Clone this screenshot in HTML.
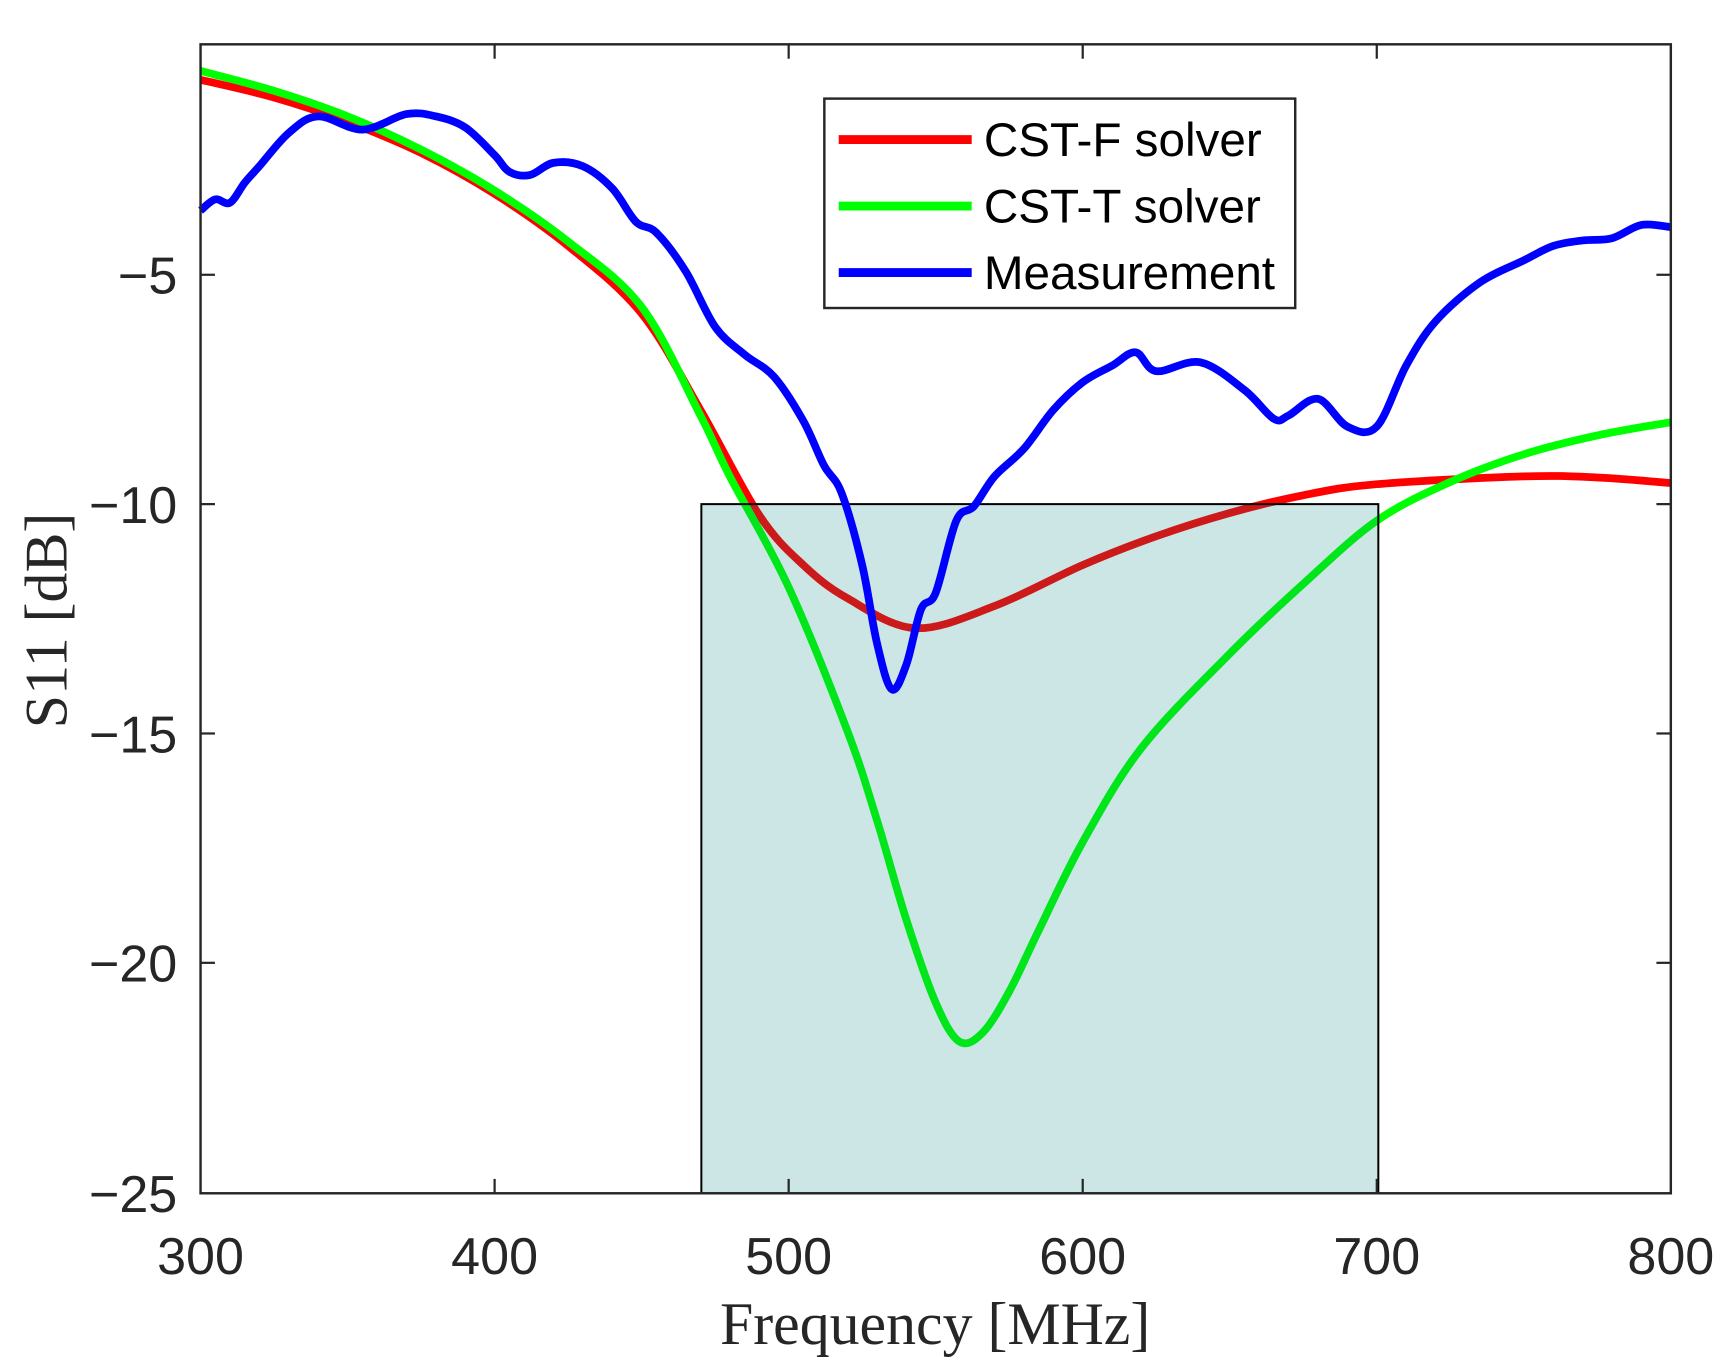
<!DOCTYPE html>
<html><head><meta charset="utf-8"><style>
html,body{margin:0;padding:0;background:#fff;width:1729px;height:1370px;overflow:hidden}
svg{display:block}
.t{font-family:"Liberation Sans",Arial,sans-serif;font-size:47px;fill:#262626}
.s{font-family:"Liberation Serif","DejaVu Serif",serif;font-size:54px;fill:#262626}
.l{font-family:"Liberation Sans",Arial,sans-serif;font-size:43px;fill:#000}
</style></head><body>
<svg id="g" width="1729" height="1370" viewBox="0 0 1560.5 1236.5" xmlns="http://www.w3.org/2000/svg">
<rect x="181" y="40" width="1327" height="1037" fill="#fff"/>
<g id="under"></g>
<rect x="633" y="455" width="611" height="622" fill="rgba(0,128,128,0.2)" stroke="#000" stroke-width="1.8"/>
<g id="over"></g>
<rect x="181" y="40" width="1327" height="1037" fill="none" stroke="#262626" stroke-width="2.2"/>
<g stroke="#262626" stroke-width="2">
<line x1="446.4" y1="1077" x2="446.4" y2="1064"/><line x1="446.4" y1="40" x2="446.4" y2="53"/>
<line x1="711.8" y1="1077" x2="711.8" y2="1064"/><line x1="711.8" y1="40" x2="711.8" y2="53"/>
<line x1="977.2" y1="1077" x2="977.2" y2="1064"/><line x1="977.2" y1="40" x2="977.2" y2="53"/>
<line x1="1242.6" y1="1077" x2="1242.6" y2="1064"/><line x1="1242.6" y1="40" x2="1242.6" y2="53"/>
<line x1="181" y1="248" x2="194" y2="248"/><line x1="1508" y1="248" x2="1495" y2="248"/>
<line x1="181" y1="455" x2="194" y2="455"/><line x1="1508" y1="455" x2="1495" y2="455"/>
<line x1="181" y1="662" x2="194" y2="662"/><line x1="1508" y1="662" x2="1495" y2="662"/>
<line x1="181" y1="869" x2="194" y2="869"/><line x1="1508" y1="869" x2="1495" y2="869"/>
</g>
<g class="t" text-anchor="middle">
<text x="181" y="1150">300</text><text x="446.4" y="1150">400</text><text x="711.8" y="1150">500</text>
<text x="977.2" y="1150">600</text><text x="1242.6" y="1150">700</text><text x="1508" y="1150">800</text>
</g>
<g class="t" text-anchor="end">
<text x="160" y="265">−5</text><text x="160" y="472">−10</text><text x="160" y="679">−15</text>
<text x="160" y="886">−20</text><text x="160" y="1094">−25</text>
</g>
<text class="s" x="844" y="1213" text-anchor="middle">Frequency [MHz]</text>
<text class="s" transform="translate(60,560) rotate(-90)" text-anchor="middle">S11 [dB]</text>
<rect x="744" y="89" width="425" height="189" fill="#fff" stroke="#262626" stroke-width="2.2"/>
<line x1="757" y1="126" x2="877" y2="126" stroke="#f00" stroke-width="8"/>
<line x1="757" y1="186" x2="877" y2="186" stroke="#0f0" stroke-width="8"/>
<line x1="757" y1="246" x2="877" y2="246" stroke="#00f" stroke-width="8"/>
<text class="l" x="888" y="141">CST-F solver</text>
<text class="l" x="888" y="201">CST-T solver</text>
<text class="l" x="888" y="261">Measurement</text>
</svg>
<script>
function X(f){return 181+2.654*(f-300);}
function path(pts){
 var p=pts.map(function(a){return [X(a[0]),a[1]];});
 var d="M"+p[0][0]+","+p[0][1];
 for(var i=0;i<p.length-1;i++){
  var p0=p[i>0?i-1:i],p1=p[i],p2=p[i+1],p3=p[i+2<p.length?i+2:i+1];
  var c1x=p1[0]+(p2[0]-p0[0])/6,c1y=p1[1]+(p2[1]-p0[1])/6;
  var c2x=p2[0]-(p3[0]-p1[0])/6,c2y=p2[1]-(p3[1]-p1[1])/6;
  d+=" C"+c1x+","+c1y+" "+c2x+","+c2y+" "+p2[0]+","+p2[1];
 }
 return d;
}
var red=[[300,72],[325,88],[350,110],[375,138],[400,175],[425,222],[450,283],[470,370],[490,465],[505,510],[520,540],[543,567],[570,547],[600,510],[625,484],[650,463],[675,447],[700,437],[750,430],[775,431],[800,436]];
var green=[[300,64],[325,82],[350,105],[375,135],[400,172],[425,218],[450,277],[470,375],[480,430],[500,530],[520,660],[530,740],[540,830],[550,905],[558,940],[566,932],[575,895],[585,840],[600,760],[620,675],[650,590],[675,527],[700,470],[725,435],[750,410],[775,393],[800,381]];
var blue=[[300,190],[305,180],[310,183],[315,165],[320,150],[330,120],[340,105],[355,117],[370,103],[380,105],[390,115],[400,140],[405,155],[412,158],[420,147],[430,150],[440,170],[448,200],[455,210],[465,245],[475,295],[485,320],[495,340],[505,380],[512,420],[518,445],[525,510],[530,580],[535,622],[540,600],[545,550],[550,535],[557,470],[563,457],[570,430],[580,405],[590,370],[600,345],[610,330],[618,318],[625,335],[640,327],[655,352],[665,378],[670,375],[680,360],[690,385],[700,385],[710,330],[720,290],[735,255],[750,235],[760,222],[770,217],[780,215],[790,203],[800,205]];
function add(g,pts,c){var e=document.createElementNS("http://www.w3.org/2000/svg","path");e.setAttribute("d",path(pts));e.setAttribute("fill","none");e.setAttribute("stroke",c);e.setAttribute("stroke-width","7");e.setAttribute("stroke-linejoin","round");document.getElementById(g).appendChild(e);}
add("under",red,"#f00");add("under",green,"#0f0");add("over",blue,"#00f");
</script>
</body></html>
